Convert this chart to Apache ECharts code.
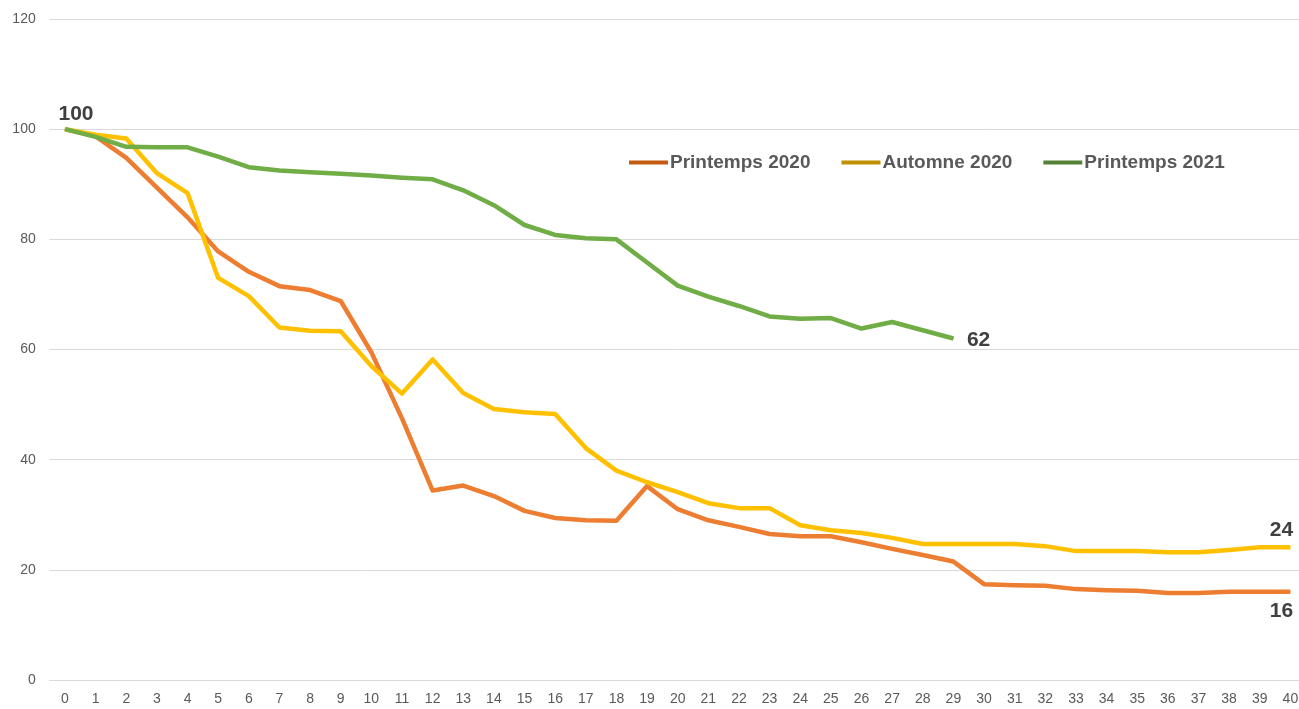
<!DOCTYPE html>
<html>
<head>
<meta charset="utf-8">
<script src="https://cdn.jsdelivr.net/npm/echarts@6/dist/echarts.min.js"></script>
<style>
html,body{margin:0;padding:0;background:#fff;}
#chart{width:1299px;height:709px;}
</style>
</head>
<body>
<div id="chart"></div>
<script>
const categories = ['0','1','2','3','4','5','6','7','8','9','10','11','12','13','14','15','16','17','18','19','20','21','22','23','24','25','26','27','28','29','30','31','32','33','34','35','36','37','38','39','40'];
const seriesNames = ['Printemps 2020', 'Automne 2020', 'Printemps 2021'];
const printemps2020 = [100, 98.7, 94.8, 89.4, 84.0, 77.8, 74.1, 71.5, 70.8, 68.8, 59.5, 47.5, 34.4, 35.3, 33.4, 30.7, 29.4, 29.0, 28.9, 35.2, 31.0, 29.0, 27.8, 26.5, 26.1, 26.1, 25.0, 23.8, 22.7, 21.5, 17.4, 17.2, 17.1, 16.5, 16.3, 16.2, 15.8, 15.8, 16.0, 16.0, 16.0];
const automne2020 = [100, 99.0, 98.3, 92.0, 88.4, 73.0, 69.7, 64.0, 63.4, 63.3, 57.0, 52.0, 58.2, 52.1, 49.2, 48.6, 48.3, 42.1, 38.0, 35.9, 34.1, 32.1, 31.2, 31.2, 28.1, 27.2, 26.7, 25.8, 24.7, 24.7, 24.7, 24.7, 24.3, 23.4, 23.4, 23.4, 23.2, 23.2, 23.6, 24.1, 24.1];
const printemps2021 = [100, 98.6, 96.8, 96.7, 96.7, 95.0, 93.1, 92.5, 92.2, 91.9, 91.6, 91.2, 90.9, 88.9, 86.2, 82.6, 80.8, 80.2, 80.0, 75.8, 71.6, 69.6, 67.9, 66.0, 65.6, 65.7, 63.8, 65.0, 63.5, 62.0];
const yTicks = [0, 20, 40, 60, 80, 100, 120];

const lineColors = ['#ED7D31', '#FFC000', '#70AD47'];
const legendColors = ['#C55A11', '#BF9000', '#548235'];
const labelStyle = {show: true, color: '#404040', fontFamily: 'Liberation Sans', fontWeight: 'bold', fontSize: 21};

function withLabels(data, labels) {
  return data.map((v, i) => {
    if (labels[i]) {
      return {value: v, label: Object.assign({}, labelStyle, labels[i], {formatter: () => String(Math.round(v))})};
    }
    return v;
  });
}

const p20 = withLabels(printemps2020, {40: {position: 'bottom', offset: [-9, 3]}});
const a20 = withLabels(automne2020, {40: {position: 'top', offset: [-9, -1]}});
const p21 = withLabels(printemps2021, {0: {position: 'top', offset: [11, 1]}, 29: {position: 'right', offset: [8, 2]}});

function lineSeries(i, data, z) {
  return {
    name: seriesNames[i], type: 'line', data: data,
    symbol: 'circle', symbolSize: 1, showSymbol: true,
    label: {show: false},
    lineStyle: {color: lineColors[i], width: 4.5, join: 'round'},
    itemStyle: {color: lineColors[i]},
    emphasis: {disabled: true},
    z: z
  };
}

const chart = echarts.init(document.getElementById('chart'), null, {renderer: 'canvas'});
chart.setOption({
  animation: false,
  backgroundColor: '#ffffff',
  grid: {left: 49.7, top: 19, width: 1256, bottom: 29, containLabel: false, outerBoundsMode: 'none'},
  legend: {
    left: 624, top: 148,
    icon: 'rect', itemWidth: 39, itemHeight: 4, itemGap: 31,
    textStyle: {color: '#595959', fontFamily: 'Liberation Sans', fontWeight: 'bold', fontSize: 19, padding: [0, 0, 0, -3]},
    data: seriesNames.map((n, i) => ({name: n, itemStyle: {color: legendColors[i]}}))
  },
  xAxis: {
    type: 'category', data: categories, boundaryGap: true,
    axisLine: {show: true, lineStyle: {color: '#d9d9d9', width: 1}},
    axisTick: {show: false},
    axisLabel: {color: '#595959', fontFamily: 'Liberation Sans', fontSize: 14, margin: 12, interval: 0}
  },
  yAxis: {
    type: 'value', min: 0, max: 120, interval: 20,
    axisLine: {show: false}, axisTick: {show: false},
    axisLabel: {color: '#595959', fontFamily: 'Liberation Sans', fontSize: 14, margin: 14,
      formatter: v => yTicks.includes(v) ? String(v) : ''},
    splitLine: {lineStyle: {color: '#d9d9d9', width: 1}}
  },
  series: [
    lineSeries(0, p20, 3),
    lineSeries(1, a20, 4),
    lineSeries(2, p21, 5)
  ]
});
</script>
</body>
</html>
